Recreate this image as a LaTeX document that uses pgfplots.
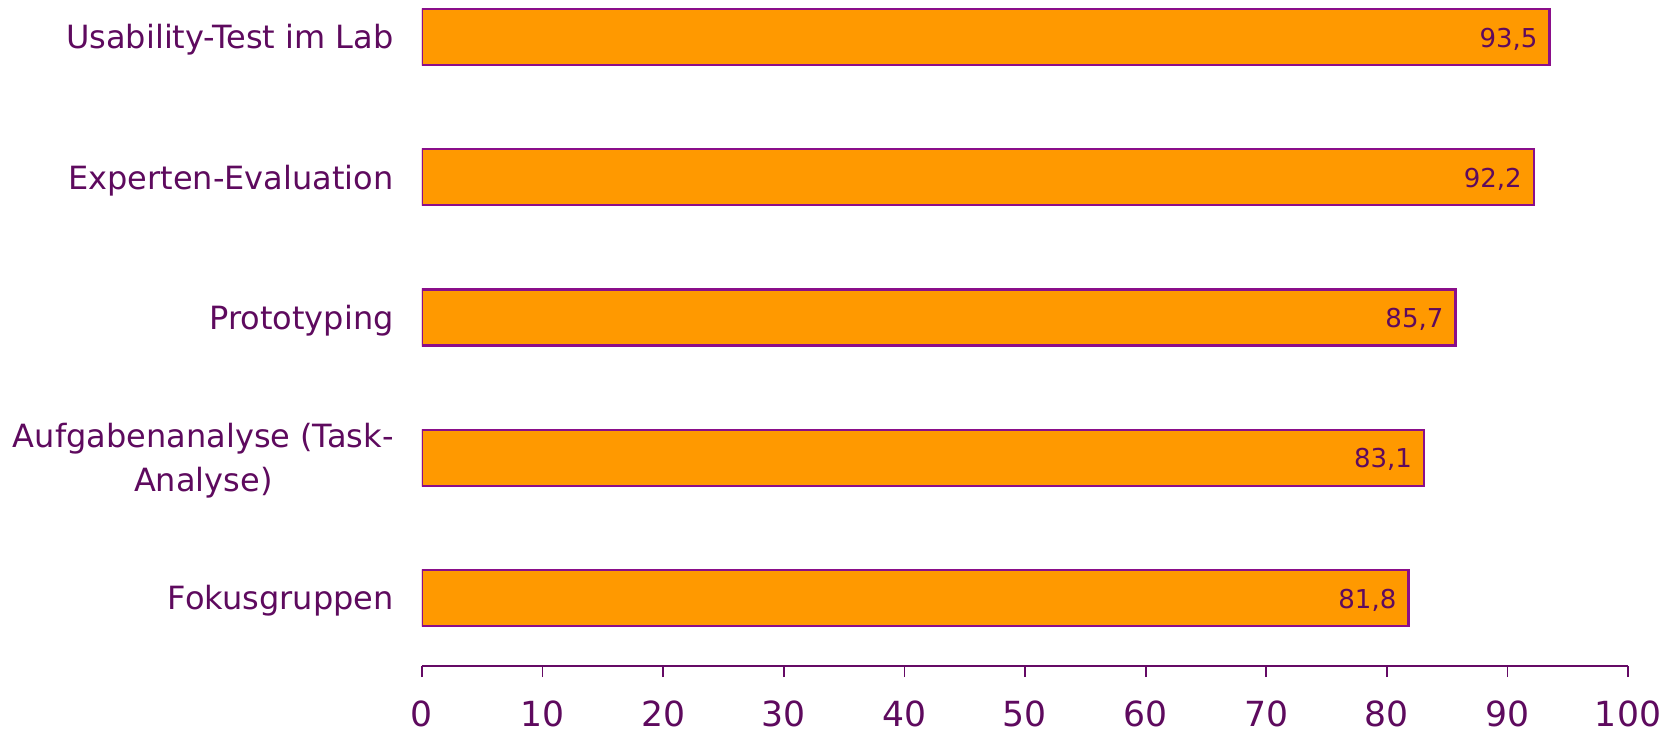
\documentclass[border=0pt]{standalone}
\usepackage{pgfplots}
\pgfplotsset{compat=1.18}
\usepackage{fontspec}
\setmainfont{DejaVu Sans}
\definecolor{txt}{HTML}{5E0A5E}
\definecolor{axc}{HTML}{650A65}
\definecolor{bord}{HTML}{8A0E8A}
\definecolor{barfill}{HTML}{FF9900}
\begin{document}
\begin{tikzpicture}
\useasboundingbox (-211pt,-34.5pt) rectangle (628.5pt,333pt);
\begin{axis}[
  at={(0,0)}, anchor=south west,
  scale only axis,
  width=603pt, height=333pt,
  xmin=0, xmax=100, ymin=-0.485, ymax=4.264,
  xbar, bar width=28pt,
  axis x line*=bottom, axis y line*=left,
  y axis line style={draw=none},
  x axis line style={draw=axc, line width=0.9pt, -},
  xtick={0,10,...,100},
  xtick align=outside,
  major tick length=5.5pt,
  xtick style={draw=axc, line width=0.9pt},
  ytick style={draw=none},
  /pgf/number format/assume math mode=true,
  xticklabel style={font=\fontsize{17.3}{20}\selectfont, text=txt, yshift=-8.5pt},
  ytick={0,...,4},
  yticklabels={Fokusgruppen, {Aufgabenanalyse (Task-\\Analyse)}, Prototyping, Experten-Evaluation, Usability-Test im Lab},
  yticklabel style={align=center, font=\fontsize{16}{22}\selectfont, text=txt, inner sep=0pt, xshift=-8.5pt, yshift=-1.5pt},
  nodes near coords,
  nodes near coords style={font=\fontsize{13}{15}\selectfont, text=txt, anchor=east, inner sep=0pt, xshift=-5.5pt, yshift=-1pt,
    /pgf/number format/.cd, use comma, fixed, fixed zerofill, precision=1},
]
\addplot[fill=barfill, draw=bord, line width=1.2pt] coordinates {
  (81.8,0) (83.1,1) (85.7,2) (92.2,3) (93.5,4)
};
\end{axis}
\end{tikzpicture}
\end{document}
